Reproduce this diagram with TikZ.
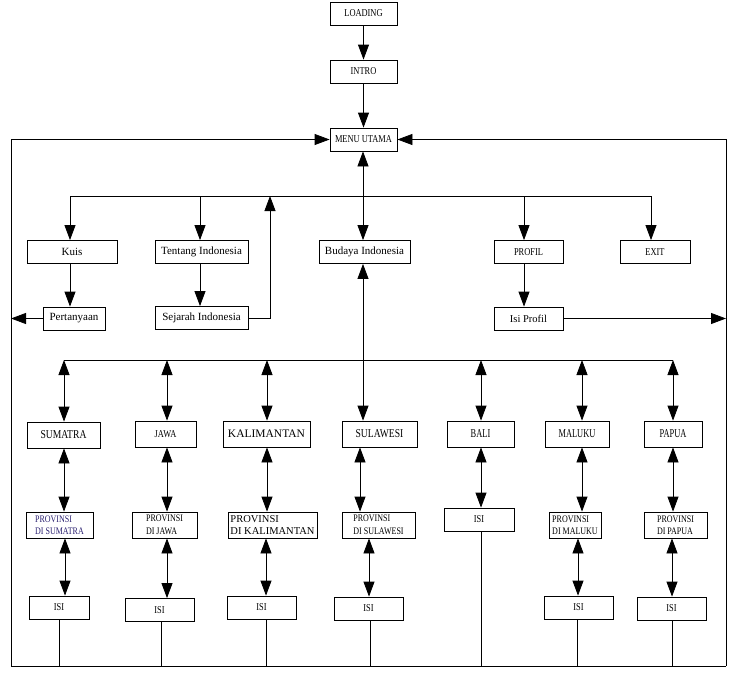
\documentclass[tikz,border=0pt]{standalone}
\usepackage{fontspec}
\setmainfont{Liberation Serif}
\newfontfamily\cnd[FakeStretch=0.8]{Liberation Serif}
\newfontfamily\cndn[FakeStretch=0.7]{Liberation Serif}
\usetikzlibrary{arrows.meta}
\definecolor{navy}{HTML}{2A2070}
\begin{document}
\begin{tikzpicture}[x=1pt,y=-1pt,
 bx/.style={draw, line width=0.8pt, inner sep=0pt, minimum height=23pt},
 capt/.style={font=\fontsize{10.5}{12}\cnd},
 mix/.style={font=\fontsize{11}{13}\selectfont},
 reg/.style={font=\fontsize{12}{14}\cnd, minimum height=26pt},
 regn/.style={font=\fontsize{12}{14}\cndn, minimum height=26pt},
 prov/.style={font=\fontsize{10}{12.5}\cnd, align=left, minimum height=26pt},
 ln/.style={line width=0.8pt},
 arr/.style={ln, -{Triangle[width=11pt,length=15pt]}},
 darr/.style={ln, {Triangle[width=11pt,length=15pt]}-{Triangle[width=11pt,length=15pt]}}]
\useasboundingbox (0,0) rectangle (740,678);

% top chain
\node[bx, capt, minimum width=67pt] (load) at (363.5,13.5) {LOADING};
\node[bx, capt, minimum width=67pt] (intro) at (363.5,71.5) {INTRO};
\node[bx, capt, minimum width=67pt] (menu) at (363.5,139.5) {MENU UTAMA};

% row 1
\node[bx, mix, minimum width=90pt] (kuis) at (72,252) {Kuis};
\node[bx, mix, minimum width=93pt] (tentang) at (201.5,252) {Tentang Indonesia};
\node[bx, mix, minimum width=91pt] (budaya) at (364.5,252) {Budaya Indonesia};
\node[bx, capt, minimum width=69pt] (profil) at (528.5,252) {PROFIL};
\node[bx, capt, minimum width=70pt] (exit) at (655,252) {EXIT};

% row 2
\node[bx, mix, minimum width=62pt] (pert) at (74,318.5) {Pertanyaan};
\node[bx, mix, minimum width=93pt] (sejarah) at (201.5,318) {Sejarah Indonesia};
\node[bx, font=\fontsize{10.5}{12}\selectfont, minimum width=69pt] (isiprofil) at (528.5,318.5) {Isi Profil};

% regions
\node[bx, reg, minimum width=73pt] (sum) at (63.5,435) {SUMATRA};
\node[bx, font=\fontsize{10.5}{12}\cnd, minimum height=26pt, minimum width=61pt] (jawa) at (165.5,434) {JAWA};
\node[bx, font=\fontsize{11.5}{14}\selectfont, minimum height=26pt, minimum width=87pt] (kal) at (266.5,434) {KALIMANTAN};
\node[bx, reg, minimum width=75pt] (sul) at (379.5,434) {SULAWESI};
\node[bx, regn, minimum width=67pt] (bali) at (480.5,434) {BALI};
\node[bx, regn, minimum width=64pt] (mal) at (577,434) {MALUKU};
\node[bx, regn, minimum width=58pt] (pap) at (673,434) {PAPUA};

% provinces
\node[bx, prov, text=navy, minimum width=67pt] (psum) at (59.5,525) {PROVINSI\\DI SUMATRA};
\node[bx, prov, minimum width=65pt] (pjawa) at (164.5,525) {PROVINSI\\DI JAWA};
\node[bx, font=\fontsize{10.5}{12.5}\selectfont, align=left, minimum height=26pt, minimum width=89pt] (pkal) at (272.5,525) {PROVINSI\\DI KALIMANTAN};
\node[bx, prov, minimum width=73pt] (psul) at (378.5,525) {PROVINSI\\DI SULAWESI};
\node[bx, capt, minimum width=70pt] (ibali) at (479,519.5) {ISI};
\node[bx, prov, minimum width=52pt] (pmal) at (575,525) {PROVINSI\\DI MALUKU};
\node[bx, prov, minimum width=63pt] (ppap) at (675.5,525) {PROVINSI\\DI PAPUA};

% ISI row
\node[bx, capt, minimum width=60pt] (isum) at (59,607.5) {ISI};
\node[bx, capt, minimum width=69pt] (ijawa) at (159.5,610) {ISI};
\node[bx, capt, minimum width=69pt] (ikal) at (261.5,607.5) {ISI};
\node[bx, capt, minimum width=69pt] (isul) at (368.5,608.5) {ISI};
\node[bx, capt, minimum width=69pt] (imal) at (578.5,607.5) {ISI};
\node[bx, capt, minimum width=69pt] (ipap) at (671.5,608.5) {ISI};

% outer loop
\coordinate (bL) at (11,666);
\coordinate (bR) at (726,666);
\draw[ln] (bL) -- (bR);
\draw[arr] (bL) |- (menu.west);
\draw[arr] (bR) |- (menu.east);

\draw[arr] (load) -- (intro);
\draw[arr] (intro) -- (menu);

% top bus
\coordinate (t1) at (70,196);
\coordinate (t2) at (200,196);
\coordinate (t3) at (363,196);
\coordinate (t4) at (524,196);
\coordinate (t5) at (651,196);
\coordinate (t6) at (270,196);
\draw[ln] (t1) -- (t5);
\draw[arr] (t3) -- (t3 |- menu.south);
\draw[arr] (t1) -- (t1 |- kuis.north);
\draw[arr] (t2) -- (t2 |- tentang.north);
\draw[arr] (t3) -- (t3 |- budaya.north);
\draw[arr] (t4) -- (t4 |- profil.north);
\draw[arr] (t5) -- (t5 |- exit.north);
\draw[arr] (t1 |- kuis.south) -- (t1 |- pert.north);
\draw[arr] (t2 |- tentang.south) -- (t2 |- sejarah.north);
\draw[arr] (sejarah.east) -| (t6);
\draw[arr] (t4 |- profil.south) -- (t4 |- isiprofil.north);
\draw[arr] (pert.west) -- (pert.west -| bL);
\draw[arr] (isiprofil.east) -- (isiprofil.east -| bR);

% lower bus
\coordinate (m1) at (64,360);
\coordinate (m2) at (167,360);
\coordinate (m3) at (267,360);
\coordinate (m4) at (363,360);
\coordinate (m5) at (481,360);
\coordinate (m6) at (582,360);
\coordinate (m7) at (673,360);
\draw[ln] (m1) -- (m7);
\draw[darr] (m1) -- (m1 |- sum.north);
\draw[darr] (m2) -- (m2 |- jawa.north);
\draw[darr] (m3) -- (m3 |- kal.north);
\draw[darr] (m4 |- budaya.south) -- (m4 |- sul.north);
\draw[darr] (m5) -- (m5 |- bali.north);
\draw[darr] (m6) -- (m6 |- mal.north);
\draw[darr] (m7) -- (m7 |- pap.north);

% region -> province
\coordinate (s4) at (360,480);
\draw[darr] (m1 |- sum.south) -- (m1 |- psum.north);
\draw[darr] (m2 |- jawa.south) -- (m2 |- pjawa.north);
\draw[darr] (m3 |- kal.south) -- (m3 |- pkal.north);
\draw[darr] (s4 |- sul.south) -- (s4 |- psul.north);
\draw[darr] (m5 |- bali.south) -- (m5 |- ibali.north);
\draw[darr] (m6 |- mal.south) -- (m6 |- pmal.north);
\draw[darr] (m7 |- pap.south) -- (m7 |- ppap.north);

% province -> ISI
\coordinate (p1) at (65,560);
\coordinate (p2) at (167,560);
\coordinate (p3) at (266,560);
\coordinate (p4) at (369,560);
\coordinate (p6) at (578,560);
\coordinate (p7) at (672,560);
\draw[darr] (p1 |- psum.south) -- (p1 |- isum.north);
\draw[darr] (p2 |- pjawa.south) -- (p2 |- ijawa.north);
\draw[darr] (p3 |- pkal.south) -- (p3 |- ikal.north);
\draw[darr] (p4 |- psul.south) -- (p4 |- isul.north);
\draw[darr] (p6 |- pmal.south) -- (p6 |- imal.north);
\draw[darr] (p7 |- ppap.south) -- (p7 |- ipap.north);

% ISI -> bottom line
\coordinate (d1) at (59,666);
\coordinate (d2) at (161,666);
\coordinate (d3) at (266,666);
\coordinate (d4) at (370,666);
\coordinate (d5) at (481,666);
\coordinate (d6) at (577,666);
\coordinate (d7) at (672,666);
\draw[ln] (d1 |- isum.south) -- (d1);
\draw[ln] (d2 |- ijawa.south) -- (d2);
\draw[ln] (d3 |- ikal.south) -- (d3);
\draw[ln] (d4 |- isul.south) -- (d4);
\draw[ln] (d5 |- ibali.south) -- (d5);
\draw[ln] (d6 |- imal.south) -- (d6);
\draw[ln] (d7 |- ipap.south) -- (d7);
\end{tikzpicture}
\end{document}
